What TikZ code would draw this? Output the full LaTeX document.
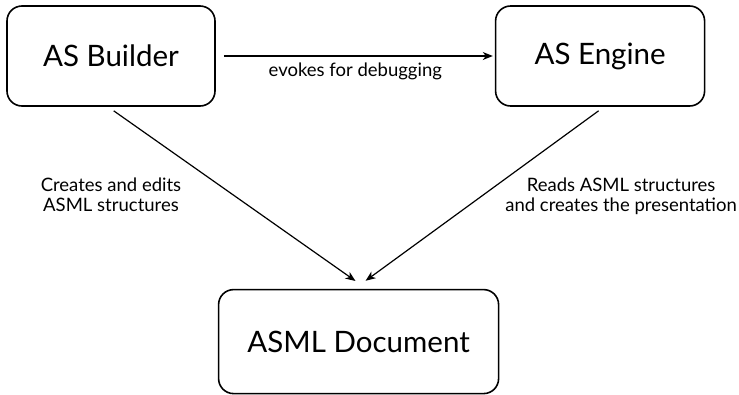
\documentclass[tikz,border=0pt]{standalone}
\usepackage{fontspec}
\setmainfont{Lato}
\usetikzlibrary{positioning, arrows.meta}

\tikzset{
    block/.style={draw, line width=1.6pt, rounded corners=15pt, font=\fontsize{29.5}{34}\selectfont},
    link/.style={-{Stealth[length=10pt,width=8pt,inset=3pt]}, line width=1.2pt},
    note/.style={align=center, font=\fontsize{18.5}{20}\selectfont}
}

\begin{document}
\begin{tikzpicture}[x=1pt, y=1pt]
        \useasboundingbox (0,0) rectangle (739,-394);

        \node[block, minimum width=208pt, minimum height=100pt] (builder) at (111,-56) {AS Builder};
        \node[block, minimum width=209pt, minimum height=100pt, right=279pt of builder] (engine) {AS Engine};
        \node[block, minimum width=280pt, minimum height=104pt, below right=182pt and 2pt of builder] (doc) {ASML Document};

        \node[note, below=68pt of builder] (createnote) {Creates and edits\\ASML structures};
        \node[note, below=68pt of engine, xshift=21pt] (readnote) {Reads ASML structures\\and creates the presentation};

        \draw[link, shorten <=8pt, shorten >=2pt] (builder.east) -- node[note, below=3pt] {evokes for debugging} (engine.west);
        \draw[link, shorten <=7pt, shorten >=13.6pt] ([xshift=-3pt]builder.south) -- ([xshift=8pt]doc.north);
        \draw[link, shorten <=6.8pt, shorten >=13.6pt] ([xshift=4pt]engine.south) -- ([xshift=-4pt]doc.north);
    \end{tikzpicture}
\end{document}
